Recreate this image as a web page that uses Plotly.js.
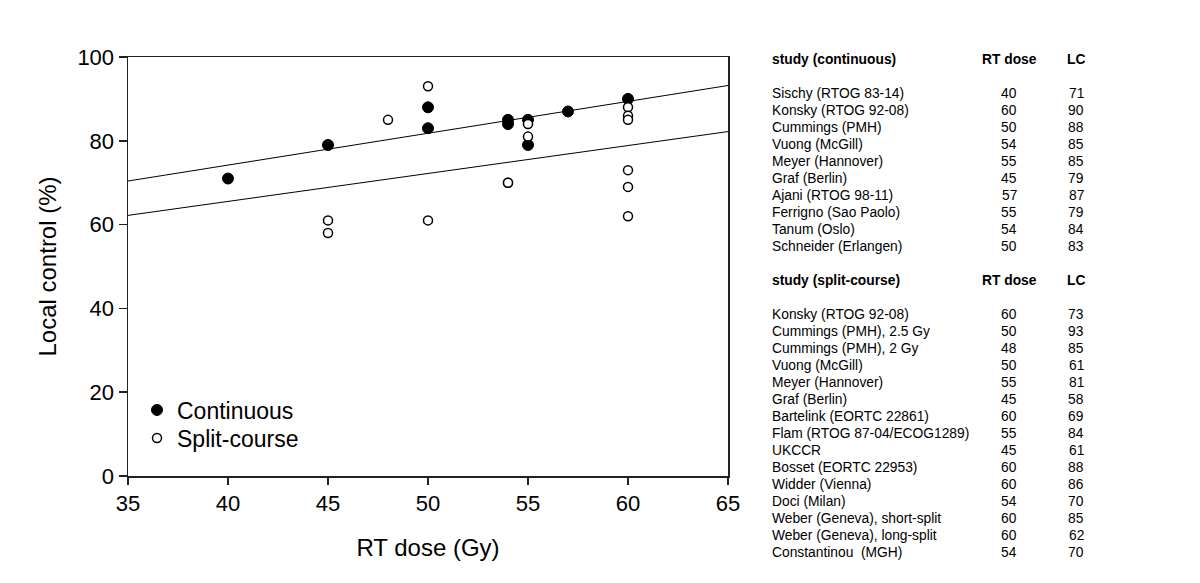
<!DOCTYPE html>
<html>
<head>
<meta charset="utf-8">
<script src="https://cdn.plot.ly/plotly-3.0.1.min.js"></script>
<style>html,body{margin:0;padding:0;background:#fff;}#chart{width:1200px;height:583px;}</style>
</head>
<body>
<div id="chart"></div>
<script>
// ---- data ----
var contStudies = ["Sischy (RTOG 83-14)","Konsky (RTOG 92-08)","Cummings (PMH)","Vuong (McGill)","Meyer (Hannover)","Graf (Berlin)","Ajani (RTOG 98-11)","Ferrigno (Sao Paolo)","Tanum (Oslo)","Schneider (Erlangen)"];
var contDose = [40,60,50,54,55,45,57,55,54,50];
var contLC   = [71,90,88,85,85,79,87,79,84,83];

var splitStudies = ["Konsky (RTOG 92-08)","Cummings (PMH), 2.5 Gy","Cummings (PMH), 2 Gy","Vuong (McGill)","Meyer (Hannover)","Graf (Berlin)","Bartelink (EORTC 22861)","Flam (RTOG 87-04/ECOG1289)","UKCCR","Bosset (EORTC 22953)","Widder (Vienna)","Doci (Milan)","Weber (Geneva), short-split","Weber (Geneva), long-split","Constantinou  (MGH)"];
var splitDose = [60,50,48,50,55,45,60,55,45,60,60,54,60,60,54];
var splitLC   = [73,93,85,61,81,58,69,84,61,88,86,70,85,62,70];

// regression lines
var fitX = [35,65];
var fitCont = [70.4,93.2];
var fitSplit = [62.2,82.2];

var xTicks = [35,40,45,50,55,60,65];
var yTicks = [0,20,40,60,80,100];

// ---- layout helpers ----
var W=1200,H=583, L=128, R=728, T=57, B=476;
function px(x){return (x-L)/(R-L);}
function py(y){return (B-y)/(B-T);}
var FONT = "Liberation Sans, Arial, sans-serif";

var traces = [
  {x:fitX, y:fitCont, mode:'lines', line:{color:'#000',width:1}, showlegend:false, hoverinfo:'skip'},
  {x:fitX, y:fitSplit, mode:'lines', line:{color:'#000',width:1}, showlegend:false, hoverinfo:'skip'},
  {x:contDose, y:contLC, mode:'markers', name:'Continuous', legend:'legend',
   marker:{symbol:'circle', size:11, color:'#000', line:{color:'#000',width:1}}},
  {x:splitDose, y:splitLC, mode:'markers', name:'Split-course', legend:'legend2',
   marker:{symbol:'circle', size:9, color:'#fff', line:{color:'#000',width:1.5}}}
];

var ann = [];
var colName = 770, colDose = 1009, colLC = 1076;
var fs = 13.8;
function addRow(yPix, a, b, c, bold){
  var wrap = function(s){return bold ? '<b>'+s+'</b>' : s;};
  ann.push({xref:'paper', yref:'paper', x:px(colName), y:py(yPix), xanchor:'left', yanchor:'middle', text:wrap(a), showarrow:false, font:{family:FONT,size:fs,color:'#000'}});
  ann.push({xref:'paper', yref:'paper', x:px(colDose), y:py(yPix), xanchor:'center', yanchor:'middle', text:wrap(b), showarrow:false, font:{family:FONT,size:fs,color:'#000'}});
  ann.push({xref:'paper', yref:'paper', x:px(colLC), y:py(yPix), xanchor:'center', yanchor:'middle', text:wrap(c), showarrow:false, font:{family:FONT,size:fs,color:'#000'}});
}
var rowH = 17.0;
addRow(59.5, 'study (continuous)', 'RT dose', 'LC', true);
for (var i=0;i<contStudies.length;i++) addRow(93.3 + i*rowH, contStudies[i], String(contDose[i]), String(contLC[i]), false);
addRow(280.5, 'study (split-course)', 'RT dose', 'LC', true);
for (var j=0;j<splitStudies.length;j++) addRow(314.3 + j*rowH, splitStudies[j], String(splitDose[j]), String(splitLC[j]), false);

var legBase = {xanchor:'left', yanchor:'middle', bgcolor:'rgba(0,0,0,0)', borderwidth:0,
               font:{family:FONT,size:23,color:'#000'}, itemsizing:'trace'};
var layout = {
  width:W, height:H,
  margin:{l:L, r:W-R, t:T, b:H-B, pad:0},
  paper_bgcolor:'#fff', plot_bgcolor:'#fff',
  font:{family:FONT, color:'#000'},
  showlegend:true,
  legend:Object.assign({x:px(137), y:py(410)}, legBase),
  legend2:Object.assign({x:px(137), y:py(438)}, legBase),
  xaxis:{range:[35,65], tickvals:xTicks, ticktext:xTicks.map(String), ticks:'outside', ticklen:7, tickwidth:1.5, tickcolor:'#222',
         showline:true, linecolor:'#222', linewidth:1.5, mirror:true, showgrid:false, zeroline:false,
         tickfont:{family:FONT,size:22,color:'#000'},
         title:{text:'RT dose (Gy)', font:{family:FONT,size:24,color:'#000'}, standoff:24}},
  yaxis:{range:[0,100], tickvals:yTicks, ticktext:yTicks.map(String), ticks:'outside', ticklen:8, tickwidth:1.5, tickcolor:'#222',
         showline:true, linecolor:'#222', linewidth:1.5, mirror:true, showgrid:false, zeroline:false,
         tickfont:{family:FONT,size:22,color:'#000'},
         title:{text:'Local control (%)', font:{family:FONT,size:24,color:'#000'}, standoff:14}},
  annotations:ann
};

Plotly.newPlot('chart', traces, layout, {displayModeBar:false, staticPlot:true});
</script>
</body>
</html>
